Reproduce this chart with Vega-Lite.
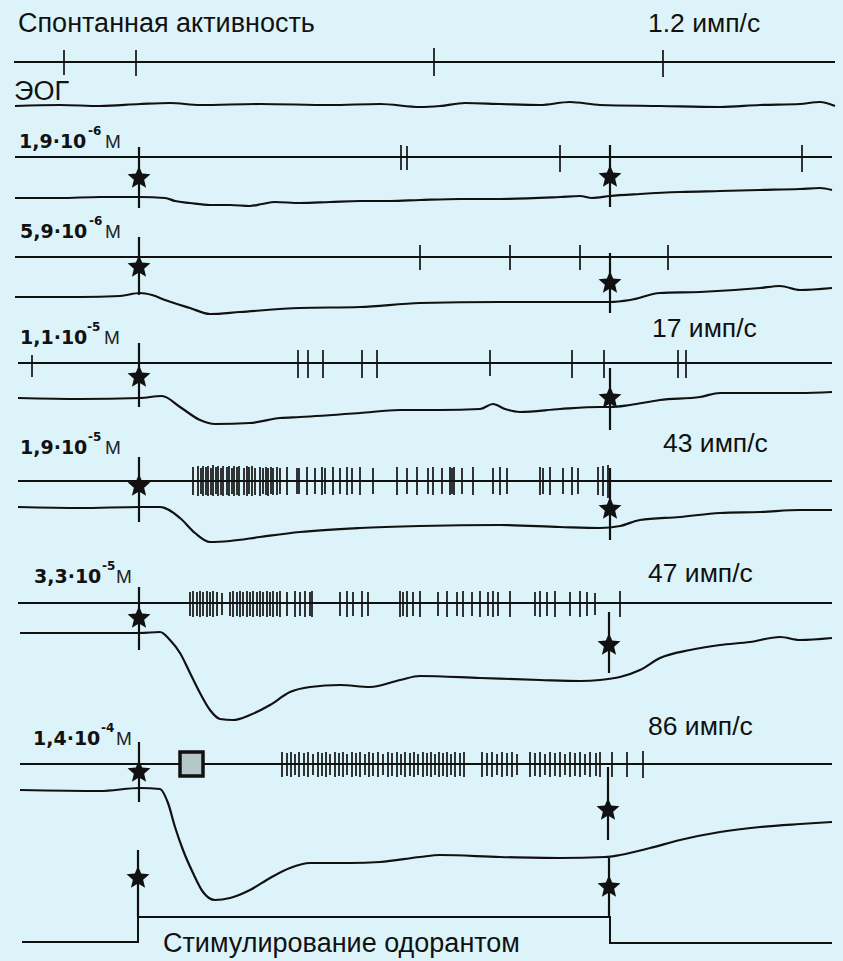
{
  "$schema": "https://vega.github.io/schema/vega-lite/v6.json",
  "width": 843,
  "height": 961,
  "autosize": {"type": "none"},
  "padding": 0,
  "background": "#dcf4f9",
  "config": {"view": {"stroke": null}},
  "datasets": {
    "baselines": [
      {"y": 62, "x0": 14, "x1": 835},
      {"y": 157, "x0": 15, "x1": 832},
      {"y": 257, "x0": 15, "x1": 832},
      {"y": 363, "x0": 18, "x1": 832},
      {"y": 481, "x0": 18, "x1": 832},
      {"y": 603, "x0": 18, "x1": 832},
      {"y": 764, "x0": 20, "x1": 832}
    ],
    "eog": [
      {"trace": "s", "t": 15, "v": 106}, {"trace": "s", "t": 60, "v": 105}, {"trace": "s", "t": 100, "v": 106}, {"trace": "s", "t": 140, "v": 104}, {"trace": "s", "t": 170, "v": 103}, {"trace": "s", "t": 200, "v": 105}, {"trace": "s", "t": 260, "v": 104}, {"trace": "s", "t": 330, "v": 105}, {"trace": "s", "t": 380, "v": 104}, {"trace": "s", "t": 420, "v": 107}, {"trace": "s", "t": 440, "v": 106}, {"trace": "s", "t": 465, "v": 103}, {"trace": "s", "t": 500, "v": 104}, {"trace": "s", "t": 540, "v": 105}, {"trace": "s", "t": 570, "v": 102}, {"trace": "s", "t": 600, "v": 105}, {"trace": "s", "t": 660, "v": 106}, {"trace": "s", "t": 720, "v": 107}, {"trace": "s", "t": 760, "v": 105}, {"trace": "s", "t": 800, "v": 104}, {"trace": "s", "t": 820, "v": 102}, {"trace": "s", "t": 835, "v": 106},
      {"trace": "a", "t": 15, "v": 198}, {"trace": "a", "t": 60, "v": 198}, {"trace": "a", "t": 100, "v": 197}, {"trace": "a", "t": 140, "v": 197}, {"trace": "a", "t": 165, "v": 198}, {"trace": "a", "t": 175, "v": 201}, {"trace": "a", "t": 190, "v": 203}, {"trace": "a", "t": 210, "v": 205}, {"trace": "a", "t": 230, "v": 205}, {"trace": "a", "t": 250, "v": 206}, {"trace": "a", "t": 262, "v": 204}, {"trace": "a", "t": 275, "v": 202}, {"trace": "a", "t": 300, "v": 203}, {"trace": "a", "t": 330, "v": 202}, {"trace": "a", "t": 360, "v": 201}, {"trace": "a", "t": 390, "v": 201}, {"trace": "a", "t": 420, "v": 200}, {"trace": "a", "t": 460, "v": 199}, {"trace": "a", "t": 500, "v": 199}, {"trace": "a", "t": 560, "v": 197}, {"trace": "a", "t": 580, "v": 196}, {"trace": "a", "t": 592, "v": 198}, {"trace": "a", "t": 610, "v": 196}, {"trace": "a", "t": 640, "v": 194}, {"trace": "a", "t": 680, "v": 192}, {"trace": "a", "t": 720, "v": 191}, {"trace": "a", "t": 760, "v": 190}, {"trace": "a", "t": 800, "v": 189}, {"trace": "a", "t": 820, "v": 188}, {"trace": "a", "t": 832, "v": 190},
      {"trace": "b", "t": 15, "v": 297}, {"trace": "b", "t": 80, "v": 297}, {"trace": "b", "t": 120, "v": 296}, {"trace": "b", "t": 140, "v": 293}, {"trace": "b", "t": 152, "v": 295}, {"trace": "b", "t": 165, "v": 300}, {"trace": "b", "t": 190, "v": 308}, {"trace": "b", "t": 210, "v": 314}, {"trace": "b", "t": 240, "v": 312}, {"trace": "b", "t": 300, "v": 308}, {"trace": "b", "t": 360, "v": 307}, {"trace": "b", "t": 420, "v": 303}, {"trace": "b", "t": 500, "v": 302}, {"trace": "b", "t": 560, "v": 302}, {"trace": "b", "t": 610, "v": 302}, {"trace": "b", "t": 630, "v": 300}, {"trace": "b", "t": 660, "v": 293}, {"trace": "b", "t": 700, "v": 292}, {"trace": "b", "t": 760, "v": 288}, {"trace": "b", "t": 780, "v": 286}, {"trace": "b", "t": 800, "v": 290}, {"trace": "b", "t": 832, "v": 288},
      {"trace": "c", "t": 18, "v": 398}, {"trace": "c", "t": 80, "v": 399}, {"trace": "c", "t": 140, "v": 398}, {"trace": "c", "t": 162, "v": 396}, {"trace": "c", "t": 180, "v": 407}, {"trace": "c", "t": 200, "v": 420}, {"trace": "c", "t": 215, "v": 424}, {"trace": "c", "t": 250, "v": 423}, {"trace": "c", "t": 280, "v": 418}, {"trace": "c", "t": 300, "v": 417}, {"trace": "c", "t": 360, "v": 413}, {"trace": "c", "t": 400, "v": 410}, {"trace": "c", "t": 440, "v": 410}, {"trace": "c", "t": 480, "v": 409}, {"trace": "c", "t": 493, "v": 404}, {"trace": "c", "t": 505, "v": 409}, {"trace": "c", "t": 520, "v": 412}, {"trace": "c", "t": 560, "v": 409}, {"trace": "c", "t": 600, "v": 407}, {"trace": "c", "t": 610, "v": 407}, {"trace": "c", "t": 630, "v": 405}, {"trace": "c", "t": 660, "v": 400}, {"trace": "c", "t": 700, "v": 397}, {"trace": "c", "t": 720, "v": 393}, {"trace": "c", "t": 760, "v": 393}, {"trace": "c", "t": 800, "v": 393}, {"trace": "c", "t": 832, "v": 392},
      {"trace": "d", "t": 18, "v": 507}, {"trace": "d", "t": 80, "v": 508}, {"trace": "d", "t": 140, "v": 507}, {"trace": "d", "t": 160, "v": 507}, {"trace": "d", "t": 180, "v": 518}, {"trace": "d", "t": 195, "v": 533}, {"trace": "d", "t": 210, "v": 542}, {"trace": "d", "t": 230, "v": 541}, {"trace": "d", "t": 260, "v": 537}, {"trace": "d", "t": 300, "v": 532}, {"trace": "d", "t": 360, "v": 528}, {"trace": "d", "t": 420, "v": 526}, {"trace": "d", "t": 500, "v": 525}, {"trace": "d", "t": 560, "v": 527}, {"trace": "d", "t": 600, "v": 528}, {"trace": "d", "t": 620, "v": 526}, {"trace": "d", "t": 640, "v": 520}, {"trace": "d", "t": 680, "v": 517}, {"trace": "d", "t": 720, "v": 513}, {"trace": "d", "t": 760, "v": 512}, {"trace": "d", "t": 800, "v": 510}, {"trace": "d", "t": 832, "v": 510},
      {"trace": "e", "t": 20, "v": 633}, {"trace": "e", "t": 80, "v": 633}, {"trace": "e", "t": 140, "v": 633}, {"trace": "e", "t": 160, "v": 632}, {"trace": "e", "t": 170, "v": 640}, {"trace": "e", "t": 180, "v": 653}, {"trace": "e", "t": 190, "v": 673}, {"trace": "e", "t": 200, "v": 693}, {"trace": "e", "t": 210, "v": 710}, {"trace": "e", "t": 220, "v": 719}, {"trace": "e", "t": 233, "v": 720}, {"trace": "e", "t": 250, "v": 715}, {"trace": "e", "t": 270, "v": 705}, {"trace": "e", "t": 290, "v": 692}, {"trace": "e", "t": 310, "v": 687}, {"trace": "e", "t": 340, "v": 685}, {"trace": "e", "t": 370, "v": 687}, {"trace": "e", "t": 400, "v": 680}, {"trace": "e", "t": 420, "v": 676}, {"trace": "e", "t": 480, "v": 678}, {"trace": "e", "t": 540, "v": 680}, {"trace": "e", "t": 580, "v": 681}, {"trace": "e", "t": 600, "v": 680}, {"trace": "e", "t": 620, "v": 677}, {"trace": "e", "t": 640, "v": 670}, {"trace": "e", "t": 660, "v": 658}, {"trace": "e", "t": 690, "v": 650}, {"trace": "e", "t": 720, "v": 645}, {"trace": "e", "t": 750, "v": 642}, {"trace": "e", "t": 780, "v": 637}, {"trace": "e", "t": 800, "v": 640}, {"trace": "e", "t": 832, "v": 638},
      {"trace": "f", "t": 20, "v": 790}, {"trace": "f", "t": 100, "v": 791}, {"trace": "f", "t": 140, "v": 788}, {"trace": "f", "t": 160, "v": 789}, {"trace": "f", "t": 168, "v": 803}, {"trace": "f", "t": 175, "v": 827}, {"trace": "f", "t": 183, "v": 850}, {"trace": "f", "t": 193, "v": 873}, {"trace": "f", "t": 203, "v": 892}, {"trace": "f", "t": 215, "v": 900}, {"trace": "f", "t": 230, "v": 898}, {"trace": "f", "t": 250, "v": 890}, {"trace": "f", "t": 270, "v": 878}, {"trace": "f", "t": 290, "v": 868}, {"trace": "f", "t": 310, "v": 863}, {"trace": "f", "t": 350, "v": 863}, {"trace": "f", "t": 380, "v": 862}, {"trace": "f", "t": 420, "v": 857}, {"trace": "f", "t": 440, "v": 855}, {"trace": "f", "t": 500, "v": 857}, {"trace": "f", "t": 560, "v": 858}, {"trace": "f", "t": 605, "v": 857}, {"trace": "f", "t": 620, "v": 855}, {"trace": "f", "t": 650, "v": 848}, {"trace": "f", "t": 680, "v": 840}, {"trace": "f", "t": 720, "v": 832}, {"trace": "f", "t": 760, "v": 827}, {"trace": "f", "t": 800, "v": 824}, {"trace": "f", "t": 832, "v": 822}
    ],
    "stimstep": [
      {"t": 22, "v": 942}, {"t": 138, "v": 917}, {"t": 610, "v": 943}, {"t": 832, "v": 943}
    ],
    "spikes": [
      {"t": 64, "lo": 50, "hi": 75}, {"t": 136, "lo": 50, "hi": 76}, {"t": 434, "lo": 48, "hi": 76}, {"t": 663, "lo": 50, "hi": 77},
      {"t": 401, "lo": 145, "hi": 170}, {"t": 407, "lo": 146, "hi": 170}, {"t": 560, "lo": 145, "hi": 172}, {"t": 802, "lo": 145, "hi": 172},
      {"t": 420, "lo": 245, "hi": 270}, {"t": 510, "lo": 245, "hi": 270}, {"t": 580, "lo": 245, "hi": 270}, {"t": 668, "lo": 245, "hi": 270},
      {"t": 32, "lo": 355, "hi": 377}, {"t": 298, "lo": 350, "hi": 378}, {"t": 308, "lo": 350, "hi": 378}, {"t": 323, "lo": 350, "hi": 378}, {"t": 362, "lo": 350, "hi": 378}, {"t": 377, "lo": 350, "hi": 378}, {"t": 490, "lo": 350, "hi": 376}, {"t": 572, "lo": 350, "hi": 378}, {"t": 604, "lo": 350, "hi": 378}, {"t": 678, "lo": 350, "hi": 378}, {"t": 686, "lo": 350, "hi": 378},
      {"t": 193, "lo": 467, "hi": 495}, {"t": 198, "lo": 466, "hi": 496}, {"t": 201, "lo": 468, "hi": 494}, {"t": 203, "lo": 466, "hi": 496}, {"t": 206, "lo": 467, "hi": 495}, {"t": 208, "lo": 466, "hi": 496}, {"t": 211, "lo": 468, "hi": 495}, {"t": 213, "lo": 465, "hi": 496}, {"t": 216, "lo": 467, "hi": 494}, {"t": 218, "lo": 466, "hi": 496}, {"t": 221, "lo": 468, "hi": 495}, {"t": 223, "lo": 466, "hi": 496}, {"t": 227, "lo": 467, "hi": 495}, {"t": 229, "lo": 466, "hi": 496}, {"t": 232, "lo": 468, "hi": 494}, {"t": 234, "lo": 466, "hi": 496}, {"t": 237, "lo": 467, "hi": 495}, {"t": 239, "lo": 466, "hi": 496}, {"t": 244, "lo": 468, "hi": 495}, {"t": 247, "lo": 466, "hi": 496}, {"t": 249, "lo": 467, "hi": 494}, {"t": 252, "lo": 466, "hi": 496}, {"t": 255, "lo": 468, "hi": 495}, {"t": 260, "lo": 467, "hi": 496}, {"t": 263, "lo": 468, "hi": 494}, {"t": 266, "lo": 467, "hi": 495}, {"t": 268, "lo": 468, "hi": 496}, {"t": 271, "lo": 467, "hi": 494}, {"t": 273, "lo": 468, "hi": 495}, {"t": 277, "lo": 467, "hi": 495}, {"t": 280, "lo": 468, "hi": 494}, {"t": 287, "lo": 467, "hi": 495}, {"t": 297, "lo": 468, "hi": 494}, {"t": 299, "lo": 468, "hi": 494}, {"t": 307, "lo": 467, "hi": 495}, {"t": 315, "lo": 468, "hi": 494}, {"t": 322, "lo": 467, "hi": 495}, {"t": 325, "lo": 468, "hi": 494}, {"t": 333, "lo": 467, "hi": 495}, {"t": 340, "lo": 468, "hi": 494}, {"t": 347, "lo": 467, "hi": 495}, {"t": 352, "lo": 468, "hi": 494}, {"t": 360, "lo": 467, "hi": 495}, {"t": 373, "lo": 468, "hi": 494}, {"t": 397, "lo": 467, "hi": 495}, {"t": 407, "lo": 468, "hi": 494}, {"t": 417, "lo": 467, "hi": 495}, {"t": 428, "lo": 468, "hi": 494}, {"t": 433, "lo": 467, "hi": 495}, {"t": 442, "lo": 468, "hi": 494}, {"t": 450, "lo": 467, "hi": 495}, {"t": 452, "lo": 468, "hi": 494}, {"t": 454, "lo": 467, "hi": 495}, {"t": 462, "lo": 468, "hi": 494}, {"t": 473, "lo": 467, "hi": 495}, {"t": 493, "lo": 468, "hi": 494}, {"t": 500, "lo": 467, "hi": 495}, {"t": 507, "lo": 468, "hi": 494}, {"t": 540, "lo": 467, "hi": 495}, {"t": 543, "lo": 468, "hi": 494}, {"t": 550, "lo": 467, "hi": 495}, {"t": 563, "lo": 468, "hi": 494}, {"t": 572, "lo": 467, "hi": 495}, {"t": 578, "lo": 468, "hi": 494}, {"t": 598, "lo": 467, "hi": 495}, {"t": 603, "lo": 466, "hi": 496}, {"t": 608, "lo": 465, "hi": 498},
      {"t": 190, "lo": 592, "hi": 616}, {"t": 193, "lo": 591, "hi": 617}, {"t": 197, "lo": 592, "hi": 616}, {"t": 200, "lo": 591, "hi": 617}, {"t": 203, "lo": 592, "hi": 616}, {"t": 207, "lo": 591, "hi": 617}, {"t": 210, "lo": 592, "hi": 616}, {"t": 213, "lo": 591, "hi": 617}, {"t": 217, "lo": 592, "hi": 616}, {"t": 222, "lo": 593, "hi": 615}, {"t": 230, "lo": 592, "hi": 616}, {"t": 233, "lo": 591, "hi": 617}, {"t": 237, "lo": 592, "hi": 616}, {"t": 240, "lo": 591, "hi": 617}, {"t": 243, "lo": 592, "hi": 616}, {"t": 247, "lo": 591, "hi": 617}, {"t": 250, "lo": 592, "hi": 616}, {"t": 253, "lo": 591, "hi": 617}, {"t": 257, "lo": 592, "hi": 616}, {"t": 260, "lo": 591, "hi": 617}, {"t": 263, "lo": 592, "hi": 616}, {"t": 267, "lo": 591, "hi": 617}, {"t": 270, "lo": 592, "hi": 616}, {"t": 273, "lo": 591, "hi": 617}, {"t": 277, "lo": 592, "hi": 616}, {"t": 280, "lo": 591, "hi": 617}, {"t": 287, "lo": 592, "hi": 616}, {"t": 295, "lo": 591, "hi": 617}, {"t": 300, "lo": 592, "hi": 616}, {"t": 305, "lo": 591, "hi": 617}, {"t": 310, "lo": 592, "hi": 616}, {"t": 312, "lo": 591, "hi": 617}, {"t": 340, "lo": 592, "hi": 616}, {"t": 347, "lo": 591, "hi": 617}, {"t": 353, "lo": 592, "hi": 616}, {"t": 362, "lo": 591, "hi": 617}, {"t": 368, "lo": 592, "hi": 616}, {"t": 400, "lo": 591, "hi": 617}, {"t": 403, "lo": 592, "hi": 616}, {"t": 407, "lo": 591, "hi": 617}, {"t": 413, "lo": 592, "hi": 616}, {"t": 420, "lo": 591, "hi": 617}, {"t": 438, "lo": 592, "hi": 616}, {"t": 447, "lo": 591, "hi": 617}, {"t": 457, "lo": 592, "hi": 616}, {"t": 463, "lo": 591, "hi": 617}, {"t": 472, "lo": 592, "hi": 616}, {"t": 480, "lo": 591, "hi": 617}, {"t": 488, "lo": 592, "hi": 616}, {"t": 493, "lo": 591, "hi": 617}, {"t": 498, "lo": 592, "hi": 616}, {"t": 510, "lo": 591, "hi": 617}, {"t": 535, "lo": 592, "hi": 616}, {"t": 540, "lo": 591, "hi": 617}, {"t": 547, "lo": 592, "hi": 616}, {"t": 555, "lo": 591, "hi": 617}, {"t": 570, "lo": 592, "hi": 616}, {"t": 580, "lo": 591, "hi": 617}, {"t": 587, "lo": 592, "hi": 616}, {"t": 595, "lo": 593, "hi": 615}, {"t": 620, "lo": 591, "hi": 617},
      {"t": 282, "lo": 752, "hi": 777}, {"t": 287, "lo": 753, "hi": 776}, {"t": 291, "lo": 752, "hi": 777}, {"t": 295, "lo": 754, "hi": 775}, {"t": 299, "lo": 752, "hi": 777}, {"t": 304, "lo": 753, "hi": 776}, {"t": 308, "lo": 752, "hi": 777}, {"t": 313, "lo": 754, "hi": 775}, {"t": 318, "lo": 752, "hi": 777}, {"t": 322, "lo": 753, "hi": 776}, {"t": 326, "lo": 752, "hi": 777}, {"t": 330, "lo": 754, "hi": 775}, {"t": 335, "lo": 752, "hi": 777}, {"t": 339, "lo": 753, "hi": 776}, {"t": 343, "lo": 752, "hi": 777}, {"t": 347, "lo": 754, "hi": 775}, {"t": 352, "lo": 752, "hi": 777}, {"t": 356, "lo": 753, "hi": 776}, {"t": 360, "lo": 752, "hi": 777}, {"t": 365, "lo": 754, "hi": 775}, {"t": 369, "lo": 752, "hi": 777}, {"t": 373, "lo": 753, "hi": 776}, {"t": 378, "lo": 752, "hi": 777}, {"t": 383, "lo": 754, "hi": 775}, {"t": 388, "lo": 752, "hi": 777}, {"t": 392, "lo": 753, "hi": 776}, {"t": 397, "lo": 752, "hi": 777}, {"t": 401, "lo": 754, "hi": 775}, {"t": 405, "lo": 752, "hi": 777}, {"t": 410, "lo": 753, "hi": 776}, {"t": 414, "lo": 752, "hi": 777}, {"t": 418, "lo": 754, "hi": 775}, {"t": 423, "lo": 752, "hi": 777}, {"t": 427, "lo": 753, "hi": 776}, {"t": 431, "lo": 752, "hi": 777}, {"t": 435, "lo": 754, "hi": 775}, {"t": 439, "lo": 752, "hi": 777}, {"t": 443, "lo": 753, "hi": 776}, {"t": 447, "lo": 752, "hi": 777}, {"t": 451, "lo": 754, "hi": 775}, {"t": 455, "lo": 752, "hi": 777}, {"t": 460, "lo": 753, "hi": 776}, {"t": 464, "lo": 752, "hi": 777}, {"t": 482, "lo": 752, "hi": 777}, {"t": 487, "lo": 753, "hi": 776}, {"t": 492, "lo": 752, "hi": 777}, {"t": 497, "lo": 754, "hi": 775}, {"t": 502, "lo": 752, "hi": 777}, {"t": 507, "lo": 753, "hi": 776}, {"t": 512, "lo": 752, "hi": 777}, {"t": 517, "lo": 754, "hi": 775}, {"t": 530, "lo": 752, "hi": 777}, {"t": 535, "lo": 753, "hi": 776}, {"t": 540, "lo": 752, "hi": 777}, {"t": 545, "lo": 754, "hi": 775}, {"t": 550, "lo": 752, "hi": 777}, {"t": 555, "lo": 753, "hi": 776}, {"t": 560, "lo": 752, "hi": 777}, {"t": 565, "lo": 754, "hi": 775}, {"t": 570, "lo": 752, "hi": 777}, {"t": 575, "lo": 753, "hi": 776}, {"t": 580, "lo": 752, "hi": 777}, {"t": 585, "lo": 754, "hi": 775}, {"t": 590, "lo": 752, "hi": 777}, {"t": 596, "lo": 753, "hi": 776}, {"t": 600, "lo": 752, "hi": 777}, {"t": 612, "lo": 752, "hi": 777}, {"t": 627, "lo": 752, "hi": 777}, {"t": 643, "lo": 751, "hi": 778}
    ],
    "markers": [
      {"t": 139, "lo": 147, "hi": 208, "star": 178},
      {"t": 610, "lo": 145, "hi": 207, "star": 177},
      {"t": 139, "lo": 237, "hi": 295, "star": 267},
      {"t": 610, "lo": 253, "hi": 313, "star": 283},
      {"t": 139, "lo": 343, "hi": 407, "star": 377},
      {"t": 610, "lo": 368, "hi": 430, "star": 398},
      {"t": 139, "lo": 457, "hi": 522, "star": 486},
      {"t": 610, "lo": 468, "hi": 540, "star": 509},
      {"t": 139, "lo": 587, "hi": 650, "star": 618},
      {"t": 609, "lo": 612, "hi": 673, "star": 645},
      {"t": 139, "lo": 742, "hi": 802, "star": 772},
      {"t": 608, "lo": 767, "hi": 840, "star": 810},
      {"t": 138, "lo": 850, "hi": 917, "star": 878},
      {"t": 609, "lo": 858, "hi": 918, "star": 887}
    ],
    "artifact": [{"t0": 180, "t1": 203, "v0": 752, "v1": 776}],
    "titles": [
      {"t": 18, "v": 32, "txt": "Спонтанная активность"},
      {"t": 14, "v": 100, "txt": "ЭОГ"},
      {"t": 163, "v": 952, "txt": "Стимулирование одорантом"}
    ],
    "rates": [
      {"t": 648, "v": 32, "txt": "1.2 имп/с"},
      {"t": 652, "v": 337, "txt": "17 имп/с"},
      {"t": 663, "v": 452, "txt": "43 имп/с"},
      {"t": 648, "v": 582, "txt": "47 имп/с"},
      {"t": 648, "v": 735, "txt": "86 имп/с"}
    ],
    "conc": [
      {"t": 19, "v": 148, "txt": "1,9·10", "e": "-6", "et": 88, "ut": 105},
      {"t": 20, "v": 238, "txt": "5,9·10", "e": "-6", "et": 89, "ut": 105},
      {"t": 20, "v": 344, "txt": "1,1·10", "e": "-5", "et": 87, "ut": 104},
      {"t": 20, "v": 454, "txt": "1,9·10", "e": "-5", "et": 88, "ut": 105},
      {"t": 34, "v": 583, "txt": "3,3·10", "e": "-5", "et": 102, "ut": 116},
      {"t": 33, "v": 745, "txt": "1,4·10", "e": "-4", "et": 101, "ut": 116}
    ]
  },
  "layer": [
    {
      "data": {"name": "baselines"},
      "mark": {"type": "rule", "color": "#111", "strokeWidth": 2},
      "encoding": {
        "x": {"field": "x0", "type": "quantitative", "scale": {"domain": [0, 843], "nice": false, "zero": false}, "axis": null},
        "x2": {"field": "x1"},
        "y": {"field": "y", "type": "quantitative", "scale": {"domain": [0, 961], "nice": false, "zero": false, "reverse": true}, "axis": null}
      }
    },
    {
      "data": {"name": "eog"},
      "mark": {"type": "line", "color": "#111", "strokeWidth": 2.2, "interpolate": "monotone"},
      "encoding": {
        "x": {"field": "t", "type": "quantitative"},
        "y": {"field": "v", "type": "quantitative"},
        "detail": {"field": "trace"}
      }
    },
    {
      "data": {"name": "stimstep"},
      "mark": {"type": "line", "color": "#111", "strokeWidth": 2, "interpolate": "step-after"},
      "encoding": {
        "x": {"field": "t", "type": "quantitative"},
        "y": {"field": "v", "type": "quantitative"}
      }
    },
    {
      "data": {"name": "spikes"},
      "mark": {"type": "rule", "color": "#111", "strokeWidth": 1.7},
      "encoding": {
        "x": {"field": "t", "type": "quantitative"},
        "y": {"field": "lo", "type": "quantitative"},
        "y2": {"field": "hi"}
      }
    },
    {
      "data": {"name": "artifact"},
      "mark": {"type": "rect", "fill": "#b4c8cb", "stroke": "#111", "strokeWidth": 3.5},
      "encoding": {
        "x": {"field": "t0", "type": "quantitative"},
        "x2": {"field": "t1"},
        "y": {"field": "v0", "type": "quantitative"},
        "y2": {"field": "v1"}
      }
    },
    {
      "data": {"name": "markers"},
      "mark": {"type": "rule", "color": "#111", "strokeWidth": 2.2},
      "encoding": {
        "x": {"field": "t", "type": "quantitative"},
        "y": {"field": "lo", "type": "quantitative"},
        "y2": {"field": "hi"}
      }
    },
    {
      "data": {"name": "markers"},
      "mark": {"type": "point", "filled": true, "color": "#111", "opacity": 1, "size": 580, "shape": "M0,-1L0.2645,-0.364L0.951,-0.309L0.428,0.139L0.588,0.809L0,0.45L-0.588,0.809L-0.428,0.139L-0.951,-0.309L-0.2645,-0.364Z"},
      "encoding": {
        "x": {"field": "t", "type": "quantitative"},
        "y": {"field": "star", "type": "quantitative"}
      }
    },
    {
      "data": {"name": "titles"},
      "mark": {"type": "text", "align": "left", "baseline": "alphabetic", "font": "Liberation Sans", "fontSize": 27, "color": "#111"},
      "encoding": {
        "x": {"field": "t", "type": "quantitative"},
        "y": {"field": "v", "type": "quantitative"},
        "text": {"field": "txt"}
      }
    },
    {
      "data": {"name": "rates"},
      "mark": {"type": "text", "align": "left", "baseline": "alphabetic", "font": "Liberation Sans", "fontSize": 26.5, "color": "#111"},
      "encoding": {
        "x": {"field": "t", "type": "quantitative"},
        "y": {"field": "v", "type": "quantitative"},
        "text": {"field": "txt"}
      }
    },
    {
      "data": {"name": "conc"},
      "mark": {"type": "text", "align": "left", "baseline": "alphabetic", "font": "DejaVu Sans", "fontSize": 19, "fontWeight": "bold", "color": "#111"},
      "encoding": {
        "x": {"field": "t", "type": "quantitative"},
        "y": {"field": "v", "type": "quantitative"},
        "text": {"field": "txt"}
      }
    },
    {
      "data": {"name": "conc"},
      "mark": {"type": "text", "align": "left", "baseline": "alphabetic", "font": "DejaVu Sans", "fontSize": 12, "fontWeight": "bold", "color": "#111", "dy": -13},
      "encoding": {
        "x": {"field": "et", "type": "quantitative"},
        "y": {"field": "v", "type": "quantitative"},
        "text": {"field": "e"}
      }
    },
    {
      "data": {"name": "conc"},
      "mark": {"type": "text", "align": "left", "baseline": "alphabetic", "font": "Liberation Sans", "fontSize": 19, "color": "#222"},
      "encoding": {
        "x": {"field": "ut", "type": "quantitative"},
        "y": {"field": "v", "type": "quantitative"},
        "text": {"value": "М"}
      }
    }
  ]
}
